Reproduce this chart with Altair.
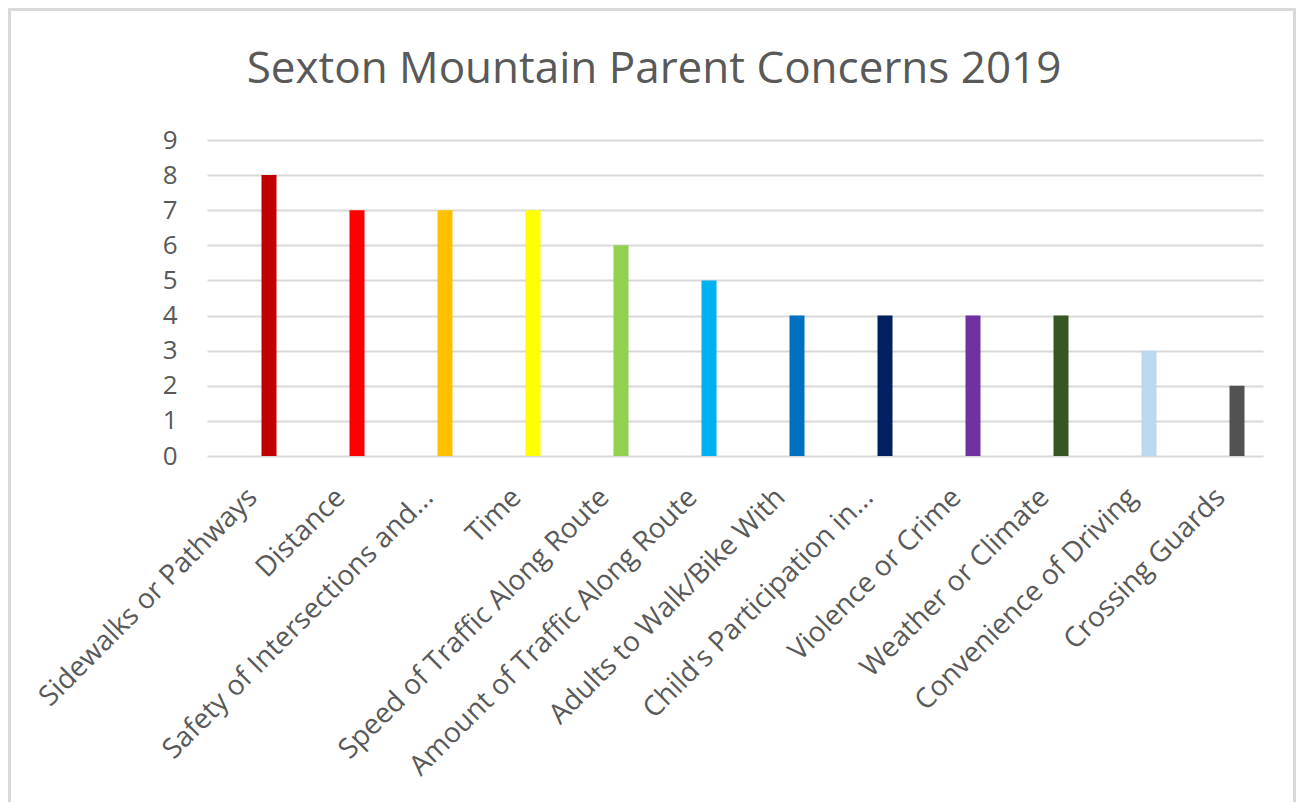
import altair as alt
import pandas as pd

title_text = "Sexton Mountain Parent Concerns 2019"
categories = [
    "Sidewalks or Pathways", "Distance", "Safety of Intersections and...", "Time",
    "Speed of Traffic Along Route", "Amount of Traffic Along Route",
    "Adults to Walk/Bike With", "Child's Participation in...", "Violence or Crime",
    "Weather or Climate", "Convenience of Driving", "Crossing Guards",
]
values = [8, 7, 7, 7, 6, 5, 4, 4, 4, 4, 3, 2]
colors = ["#C00000", "#FF0000", "#FFC000", "#FFFF00", "#92D050", "#00B0F0",
          "#0070C0", "#002060", "#7030A0", "#375623", "#BDD7EE", "#525252"]
y_ticks = list(range(0, 10))

df = pd.DataFrame({"concern": categories, "count": values})

FONT = "Open Sans"
TXT = "#595959"
GRID = "#D9D9D9"

bars = alt.Chart(df).mark_bar(size=15, xOffset=18).encode(
    x=alt.X("concern:N", sort=categories, title=None,
            scale=alt.Scale(paddingInner=0, paddingOuter=0),
            axis=alt.Axis(labelAngle=-45, labelAlign="right", labelBaseline="middle",
                          labelPadding=37, labelOffset=2, ticks=False, domain=False,
                          labelFontSize=28, labelFont=FONT, labelColor=TXT,
                          labelLimit=600)),
    y=alt.Y("count:Q", title=None, scale=alt.Scale(domain=[0, 9], nice=False),
            axis=alt.Axis(values=y_ticks, ticks=False, domain=False, gridColor=GRID,
                          gridWidth=2, labelPadding=30, labelFontSize=26,
                          labelFont=FONT, labelColor=TXT)),
    color=alt.Color("concern:N", sort=categories,
                    scale=alt.Scale(domain=categories, range=colors), legend=None),
)

single = pd.DataFrame({"t": [title_text]})

frame = alt.Chart(single).mark_rect(
    fill=None, stroke=GRID, strokeWidth=3
).encode(
    x=alt.value(-197.5), x2=alt.value(1087.5), y=alt.value(-130.5), y2=alt.value(900)
)

title = alt.Chart(single).mark_text(
    font=FONT, fontSize=44, color=TXT, align="center", baseline="alphabetic"
).encode(
    text="t:N", x=alt.value(447), y=alt.value(-57)
)

chart = alt.layer(frame, title, bars).properties(
    width=1056, height=316,
    background="white",
    autosize=alt.AutoSizeParams(type="none"),
    padding={"left": 199, "top": 132, "right": 33, "bottom": 346},
).configure_view(strokeWidth=0, stroke="transparent")

chart.save("out.html", embed_options={"renderer": "svg", "actions": False})
